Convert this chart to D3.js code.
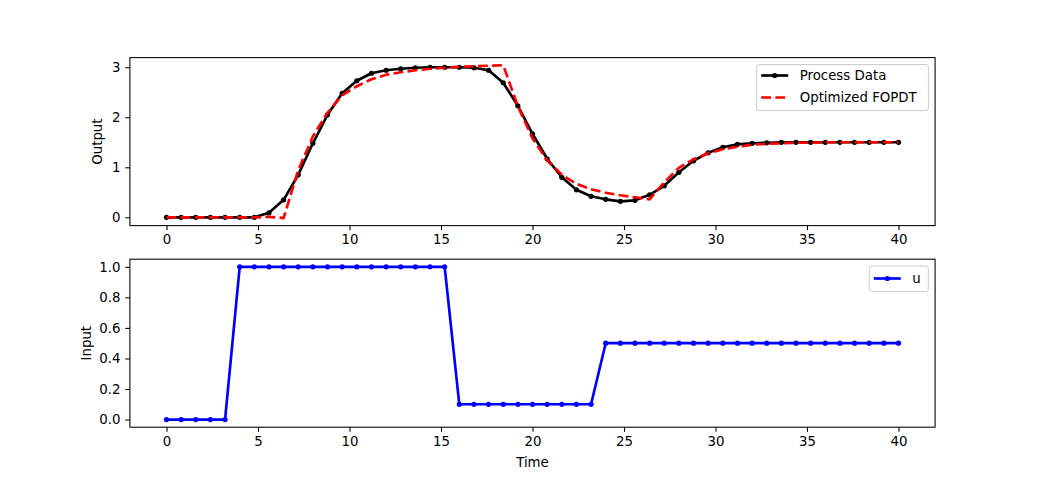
<!DOCTYPE html>
<html>
<head>
<meta charset="utf-8">
<script src="https://cdn.jsdelivr.net/npm/d3@7"></script>
<style>
  html, body { margin: 0; padding: 0; background: #fff; }
  svg { display: block; font-family: "DejaVu Sans", sans-serif; }
</style>
</head>
<body>
<svg id="chart" width="1039" height="480"></svg>
<script>
// ---- data ----
const time = d3.range(51).map(i => +(i * 0.8).toFixed(1));
const processData = [0, 0, 0, 0, 0, 0, 0,
  0.09, 0.35, 0.85, 1.48, 2.05, 2.48, 2.73, 2.88, 2.94, 2.97, 2.99, 3.0, 3.0, 3.0, 2.99, 2.94, 2.69,
  2.23, 1.67, 1.17, 0.80, 0.55, 0.42, 0.36, 0.32, 0.34, 0.45, 0.63, 0.90, 1.13, 1.29, 1.40, 1.46, 1.48, 1.49,
  1.5, 1.5, 1.5, 1.5, 1.5, 1.5, 1.5, 1.5, 1.5];
const fopdt = [0, 0, 0, 0, 0, 0, 0,
  0.01, -0.013, 0.94, 1.62, 2.09, 2.44, 2.62, 2.76, 2.85, 2.90, 2.94, 2.97, 2.99, 3.01, 3.02, 3.03, 3.04,
  2.22, 1.58, 1.14, 0.85, 0.67, 0.56, 0.49, 0.44, 0.40, 0.36, 0.70, 0.99, 1.16, 1.28, 1.36, 1.41, 1.45, 1.47,
  1.48, 1.49, 1.49, 1.5, 1.5, 1.5, 1.5, 1.5, 1.5];
const inputU = [0, 0, 0, 0, 0,
  1, 1, 1, 1, 1, 1, 1, 1, 1, 1, 1, 1, 1, 1, 1,
  0.1, 0.1, 0.1, 0.1, 0.1, 0.1, 0.1, 0.1, 0.1, 0.1,
  0.5, 0.5, 0.5, 0.5, 0.5, 0.5, 0.5, 0.5, 0.5, 0.5, 0.5, 0.5, 0.5, 0.5, 0.5, 0.5, 0.5, 0.5, 0.5, 0.5, 0.5];
const xTicks = [0, 5, 10, 15, 20, 25, 30, 35, 40];
const yTicksTop = [0, 1, 2, 3];
const yTicksBottom = [0, 0.2, 0.4, 0.6, 0.8, 1.0];

// ---- layout ----
const W = 1039, H = 480;
const left = 129.9, right = 935.1;
const axH = 168;
const topY = 57.6, botY = 259.2;
const svg = d3.select("#chart");
const pt = 1.3333;

function padDomain(arrs) {
  const lo = d3.min(arrs, a => d3.min(a)), hi = d3.max(arrs, a => d3.max(a));
  const m = (hi - lo) * 0.05;
  return [lo - m, hi + m];
}

const x = d3.scaleLinear().domain(padDomain([time])).range([left, right]);

function drawAxes(y0, yScale, yTicks, yFmt, ylabel, ylabelX, showXLabel) {
  const g = svg.append("g");
  // frame
  g.append("rect").attr("x", left).attr("y", y0).attr("width", right - left).attr("height", axH)
    .attr("fill", "none").attr("stroke", "#000").attr("stroke-width", 0.8 * pt);
  const xa = d3.axisBottom(x).tickValues(xTicks).tickFormat(d3.format("d"))
    .tickSize(3.5 * pt).tickPadding(3.5 * pt);
  const gx = g.append("g").attr("transform", `translate(0,${y0 + axH})`).call(xa);
  const ya = d3.axisLeft(yScale).tickValues(yTicks).tickFormat(yFmt)
    .tickSize(3.5 * pt).tickPadding(3.5 * pt);
  const gy = g.append("g").attr("transform", `translate(${left},0)`).call(ya);
  [gx, gy].forEach(a => {
    a.select(".domain").remove();
    a.selectAll(".tick line").attr("stroke", "#000").attr("stroke-width", 0.8 * pt);
    a.selectAll(".tick text").attr("fill", "#000").style("font-size", "13.33px")
      .style("font-family", "DejaVu Sans");
  });
  g.append("text").attr("transform", `translate(${ylabelX},${y0 + axH / 2}) rotate(-90)`)
    .attr("text-anchor", "middle").attr("dominant-baseline", "central")
    .style("font-size", "13.33px").text(ylabel);
  if (showXLabel) {
    g.append("text").attr("x", (left + right) / 2).attr("y", 462)
      .attr("text-anchor", "middle").attr("dominant-baseline", "central")
      .style("font-size", "13.33px").text("Time");
  }
  return g;
}

// ---- top ----
const yTop = d3.scaleLinear().domain(padDomain([processData, fopdt])).range([topY + axH, topY]);
drawAxes(topY, yTop, yTicksTop, d3.format("d"), "Output", 97, false);

const clipTop = svg.append("clipPath").attr("id", "clipTop").append("rect")
  .attr("x", left).attr("y", topY).attr("width", right - left).attr("height", axH);
const gTop = svg.append("g").attr("clip-path", "url(#clipTop)");
const lineTop = d3.line().x((d, i) => x(time[i])).y(d => yTop(d));
gTop.append("path").datum(processData).attr("d", lineTop).attr("fill", "none")
  .attr("stroke", "#000").attr("stroke-width", 2 * pt).attr("stroke-linejoin", "round").attr("stroke-linecap", "square");
gTop.selectAll("circle.pd").data(processData).join("circle").attr("class", "pd")
  .attr("cx", (d, i) => x(time[i])).attr("cy", d => yTop(d)).attr("r", 2.6).attr("fill", "#000");
gTop.append("path").datum(fopdt).attr("d", lineTop).attr("fill", "none")
  .attr("stroke", "#ff0000").attr("stroke-width", 2 * pt).attr("stroke-dasharray", `${7.4 * pt} ${3.2 * pt}`);

// ---- bottom ----
const yBot = d3.scaleLinear().domain(padDomain([inputU])).range([botY + axH, botY]);
drawAxes(botY, yBot, yTicksBottom, d3.format(".1f"), "Input", 86, true);
const gBot = svg.append("g");
const lineBot = d3.line().x((d, i) => x(time[i])).y(d => yBot(d));
gBot.append("path").datum(inputU).attr("d", lineBot).attr("fill", "none")
  .attr("stroke", "#0000ff").attr("stroke-width", 2 * pt).attr("stroke-linejoin", "round");
gBot.selectAll("circle").data(inputU).join("circle")
  .attr("cx", (d, i) => x(time[i])).attr("cy", d => yBot(d)).attr("r", 2.6).attr("fill", "#0000ff");

// ---- legends ----
function legend(x0, y0, w, h, items) {
  const g = svg.append("g");
  g.append("rect").attr("x", x0).attr("y", y0).attr("width", w).attr("height", h)
    .attr("rx", 2.5).attr("fill", "#fff").attr("fill-opacity", 0.8)
    .attr("stroke", "#cccccc").attr("stroke-width", 1);
  items.forEach(it => {
    const l = g.append("line").attr("x1", x0 + 4.5).attr("x2", x0 + 31.5)
      .attr("y1", it.cy).attr("y2", it.cy).attr("stroke", it.color).attr("stroke-width", 2 * pt);
    if (it.dash) l.attr("stroke-dasharray", `${7.4 * pt} ${3.2 * pt}`);
    if (it.marker) g.append("circle").attr("cx", x0 + 18).attr("cy", it.cy).attr("r", 2.6).attr("fill", it.color);
    g.append("text").attr("x", x0 + 43).attr("y", it.cy).attr("dominant-baseline", "central")
      .style("font-size", "13.33px").attr("fill", "#000").text(it.label);
  });
}
legend(756.7, 64.5, 171.7, 46, [
  { label: "Process Data", color: "#000", marker: true, cy: 75.5 },
  { label: "Optimized FOPDT", color: "#ff0000", dash: true, cy: 97.5 }
]);
legend(869.3, 266, 59, 25.5, [
  { label: "u", color: "#0000ff", marker: true, cy: 278.5 }
]);
</script>
</body>
</html>
